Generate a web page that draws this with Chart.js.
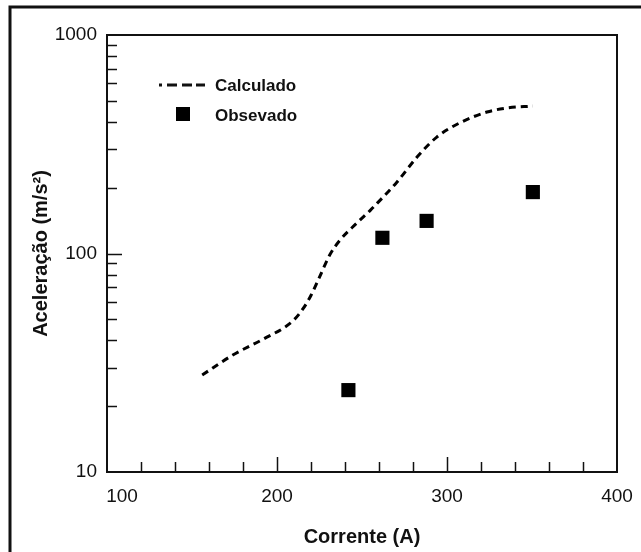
<!DOCTYPE html>
<html>
<head>
<meta charset="utf-8">
<script src="https://cdn.jsdelivr.net/npm/chart.js@4/dist/chart.umd.min.js"></script>
<style>
  html, body { margin: 0; padding: 0; background: #fff; }
  canvas { display: block; }
</style>
</head>
<body>
<canvas id="myChart" width="641" height="552"></canvas>
<script>
// calculated curve (dashed)
const calcCurrent = [156, 174, 192, 208, 213.5, 219.5, 225, 231, 237, 247, 255, 259, 270.5, 282.5, 294, 307.5, 323.5, 335, 350.5];
const calcAccel = [27.8, 34.3, 40.6, 48.1, 53.4, 63.2, 78, 98.4, 115, 138, 158, 170, 212, 277, 341, 396, 444, 463, 473];

// observed points
const obsCurrent = [242, 262, 288, 350.5];
const obsAccel = [23.7, 118, 141, 191];

const xTickLabels = [100, 200, 300, 400];
const yTickLabels = [10, 100, 1000];

const legendLabels = ['Calculado', 'Obsevado'];
const xTitle = 'Corrente (A)';
const yTitle = 'Aceleração (m/s²)';

const fontFamily = "'Liberation Sans', Arial, Helvetica, sans-serif";
const ink = '#111';

const canvas = document.getElementById('myChart');
const ctx = canvas.getContext('2d');

// frame, inward ticks and legend
const decorPlugin = {
    id: 'decor',
    afterDraw(chart) {
        const c = chart.ctx;
        const area = chart.chartArea;
        const xs = chart.scales.x;
        const ys = chart.scales.y;
        c.save();
        c.strokeStyle = ink;

        // outer frame (cut at right and bottom)
        c.lineWidth = 3;
        c.beginPath();
        c.moveTo(10, chart.height);
        c.lineTo(10, 7);
        c.lineTo(chart.width, 7);
        c.stroke();

        // plot box
        c.lineWidth = 2;
        c.strokeRect(area.left, area.top, area.right - area.left, area.bottom - area.top);

        // x ticks
        c.lineWidth = 1.5;
        c.beginPath();
        for (let v = xs.min + 20; v < xs.max; v += 20) {
            const px = Math.round(xs.getPixelForValue(v)) + 0.5;
            const len = v % 100 === 0 ? 15 : 10;
            c.moveTo(px, area.bottom);
            c.lineTo(px, area.bottom - len);
        }
        // y ticks
        for (let dec = 10; dec < ys.max; dec *= 10) {
            for (let m = 1; m <= 9; m++) {
                const v = dec * m;
                if (v <= ys.min || v >= ys.max) continue;
                const py = Math.round(ys.getPixelForValue(v)) + 0.5;
                const len = m === 1 ? 15 : 10;
                c.moveTo(area.left, py);
                c.lineTo(area.left + len, py);
            }
        }
        c.stroke();

        // first x label sits right of the corner, clear of the "10"
        c.fillStyle = ink;
        c.font = '19px ' + fontFamily;
        c.textAlign = 'center';
        c.textBaseline = 'middle';
        c.fillText(String(xTickLabels[0]), xs.getPixelForValue(xTickLabels[0]) + 15, area.bottom + 25);

        // legend
        const lx = area.left;
        c.lineWidth = 3;
        c.beginPath();
        c.moveTo(lx + 52, 85); c.lineTo(lx + 55, 85);
        c.moveTo(lx + 60, 85); c.lineTo(lx + 70, 85);
        c.moveTo(lx + 75, 85); c.lineTo(lx + 85, 85);
        c.moveTo(lx + 89, 85); c.lineTo(lx + 98, 85);
        c.stroke();
        c.fillStyle = '#000';
        c.fillRect(lx + 69, 107, 14, 14);

        c.fillStyle = ink;
        c.font = 'bold 17px ' + fontFamily;
        c.textAlign = 'left';
        c.fillText(legendLabels[0], lx + 108, 86);
        c.fillText(legendLabels[1], lx + 108, 116);
        c.restore();
    }
};

new Chart(ctx, {
    type: 'scatter',
    data: {
        datasets: [{
            label: legendLabels[0],
            data: calcCurrent.map((x, i) => ({ x: x, y: calcAccel[i] })),
            showLine: true,
            borderColor: '#000',
            borderWidth: 3,
            borderDash: [7, 5],
            pointRadius: 0,
            cubicInterpolationMode: 'monotone',
            fill: false
        }, {
            label: legendLabels[1],
            data: obsCurrent.map((x, i) => ({ x: x, y: obsAccel[i] })),
            pointStyle: 'rect',
            pointRadius: 10,
            pointBackgroundColor: '#000',
            pointBorderColor: '#000',
            pointBorderWidth: 0,
            showLine: false
        }]
    },
    options: {
        responsive: false,
        animation: false,
        layout: { padding: { left: 12, right: 24, top: 35, bottom: 0 } },
        plugins: {
            legend: { display: false },
            tooltip: { enabled: false }
        },
        scales: {
            x: {
                type: 'linear',
                position: 'bottom',
                min: 100,
                max: 400,
                afterFit(scale) {
                    scale.height = 80;
                    scale.paddingLeft = 0;
                    scale.paddingRight = 0;
                },
                afterBuildTicks(scale) { scale.ticks = xTickLabels.map(v => ({ value: v })); },
                grid: { display: false, drawTicks: false },
                border: { display: false },
                ticks: {
                    padding: 13,
                    color: ink,
                    font: { family: fontFamily, size: 19 },
                    maxRotation: 0,
                    // first label is drawn by the plugin, shifted right
                    callback: (v) => (v === xTickLabels[0] ? '' : String(v))
                },
                title: {
                    display: true,
                    text: xTitle,
                    color: ink,
                    padding: { top: 0, bottom: 3 },
                    font: { family: fontFamily, size: 20, weight: 'bold', lineHeight: 1.2 }
                }
            },
            y: {
                type: 'logarithmic',
                min: 10,
                max: 1000,
                afterFit(scale) {
                    scale.width = 95;
                    scale.paddingTop = 0;
                    scale.paddingBottom = 0;
                },
                afterBuildTicks(scale) { scale.ticks = yTickLabels.map(v => ({ value: v })); },
                grid: { display: false, drawTicks: false },
                border: { display: false },
                ticks: {
                    padding: 10,
                    color: ink,
                    font: { family: fontFamily, size: 19 },
                    callback: (v) => String(v)
                },
                title: {
                    display: true,
                    text: yTitle,
                    color: ink,
                    padding: { top: 17, bottom: 0 },
                    font: { family: fontFamily, size: 20, weight: 'bold', lineHeight: 1.2 }
                }
            }
        }
    },
    plugins: [decorPlugin]
});
</script>
</body>
</html>
